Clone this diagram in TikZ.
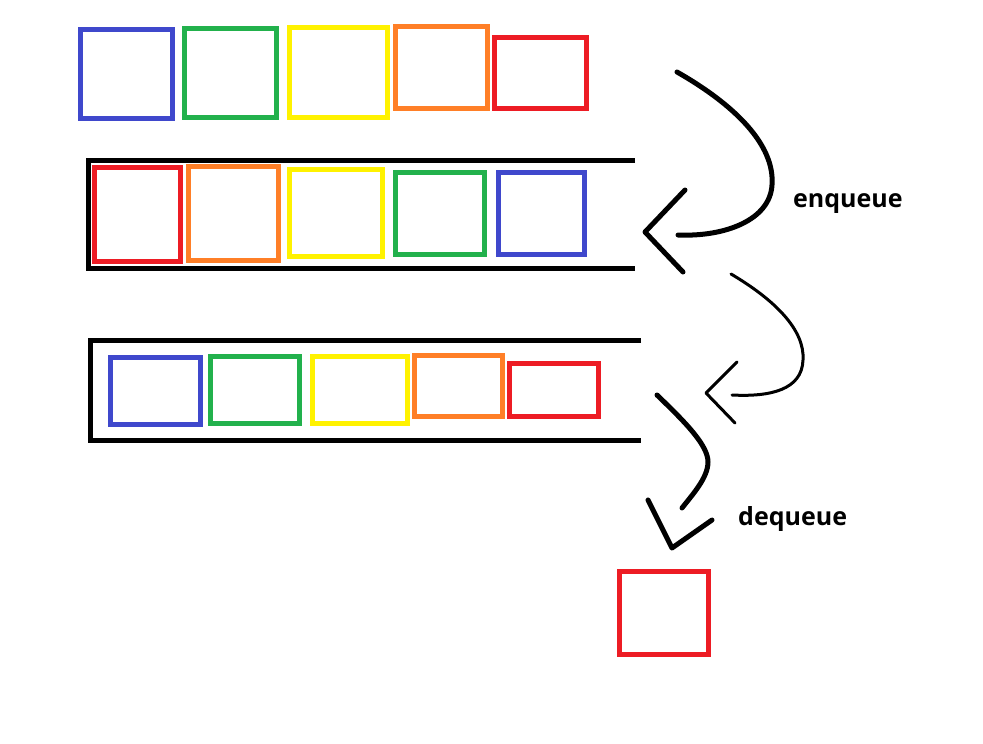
\documentclass[tikz,border=0pt]{standalone}
\usepackage{fontspec}
\setmainfont{Open Sans}
\usepackage{tikz}
\definecolor{qblue}{HTML}{3F48CC}
\definecolor{qgreen}{HTML}{22B14C}
\definecolor{qyellow}{HTML}{FFF200}
\definecolor{qorange}{HTML}{FF7F27}
\definecolor{qred}{HTML}{ED1C24}

\begin{document}
\begin{tikzpicture}[x=1pt, y=-1pt,
	every node/.style={font=\fontsize{25}{30}\selectfont\bfseries},
	box/.style={draw, line width=5pt, inner sep=0pt, outer sep=0pt},
	frame/.style={draw, line width=5pt},
	stroke/.style={draw, line width=5pt, line cap=round, line join=round},
	thinstroke/.style={draw, line width=3pt, line cap=round, line join=round}]
	\useasboundingbox (0,0) rectangle (983,744);
	% items waiting
	\node[box, draw=qblue,   minimum width=92, minimum height=89] (w1) at (126.5,74) {};
	\node[box, draw=qgreen,  minimum width=92, minimum height=89] (w2) at (230.5,73) {};
	\node[box, draw=qyellow, minimum width=98, minimum height=90] (w3) at (338.5,72.5) {};
	\node[box, draw=qorange, minimum width=92, minimum height=82] (w4) at (441.5,67.5) {};
	\node[box, draw=qred,    minimum width=92, minimum height=71] (w5) at (540.5,73) {};
	% queue after enqueue
	\draw[frame] (635,160.5) -- (88.5,160.5) -- (88.5,268.5) -- (635,268.5);
	\node[box, draw=qred,    minimum width=86, minimum height=94] (a1) at (137,214.5) {};
	\node[box, draw=qorange, minimum width=90, minimum height=94] (a2) at (233.5,213.5) {};
	\node[box, draw=qyellow, minimum width=93, minimum height=87] (a3) at (335.5,213) {};
	\node[box, draw=qgreen,  minimum width=89, minimum height=82] (a4) at (440,213.5) {};
	\node[box, draw=qblue,   minimum width=86, minimum height=82] (a5) at (541.5,213.5) {};
	% queue before dequeue
	\draw[frame] (641,340) -- (90.5,340) -- (90.5,440.5) -- (641,440.5);
	\node[box, draw=qblue,   minimum width=90, minimum height=67] (b1) at (155.5,391) {};
	\node[box, draw=qgreen,  minimum width=89, minimum height=67] (b2) at (255,390) {};
	\node[box, draw=qyellow, minimum width=95, minimum height=67] (b3) at (360,390) {};
	\node[box, draw=qorange, minimum width=88, minimum height=61] (b4) at (458.5,386) {};
	\node[box, draw=qred,    minimum width=89, minimum height=53] (b5) at (554,390) {};
	% item taken out
	\node[box, draw=qred, minimum width=89, minimum height=83] (out) at (664,613) {};
	% enqueue arrow
	\coordinate (enqS) at (677,72);
	\coordinate (enqM) at (772,185);
	\coordinate (enqE) at (678,235);
	\draw[stroke] (enqS) .. controls (735,105) and (775,145) .. (enqM)
		.. controls (770,220) and (725,237) .. (enqE);
	\draw[stroke] (685,190) -- (645,232) -- (683,272);
	\node[anchor=base west, inner sep=0pt] (enq) at (793,207) {enqueue};
	% passing arrow
	\coordinate (midS) at (731,274);
	\coordinate (midM) at (803,360);
	\coordinate (midE) at (732,395);
	\draw[thinstroke] (midS) .. controls (775,300) and (805,330) .. (midM)
		.. controls (802,390) and (770,397) .. (midE);
	\draw[thinstroke] (737,362) -- (706,393) -- (735,423);
	% dequeue arrow
	\coordinate (deqS) at (657,395);
	\coordinate (deqM) at (708,462);
	\coordinate (deqE) at (682,508);
	\draw[stroke] (deqS) .. controls (685,422) and (708,445) .. (deqM)
		.. controls (708,478) and (692,495) .. (deqE);
	\draw[stroke] (648,500) -- (672,548) -- (712,520);
	\node[anchor=base west, inner sep=0pt] (deq) at (738,525) {dequeue};
\end{tikzpicture}
\end{document}
